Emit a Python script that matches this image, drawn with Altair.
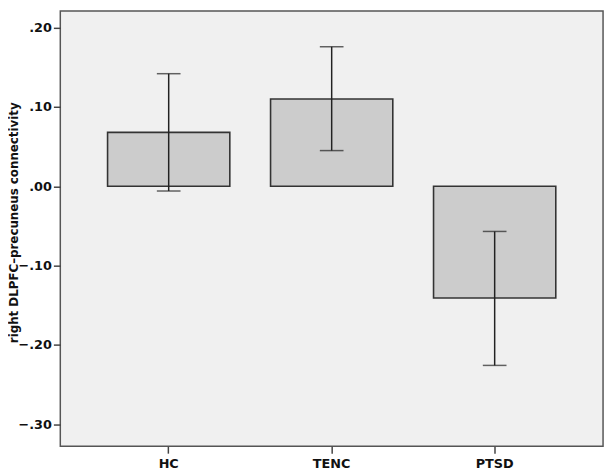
import altair as alt
import pandas as pd

groups = ["HC", "TENC", "PTSD"]
means = [0.068, 0.110, -0.141]
lower = [-0.006, 0.045, -0.226]
upper = [0.142, 0.176, -0.057]

df = pd.DataFrame({"group": groups, "mean": means, "lo": lower, "hi": upper})

FONT = "DejaVu Sans"
x_enc = alt.X(
    "group:N",
    sort=groups,
    scale=alt.Scale(paddingInner=0.25, paddingOuter=0.29),
    axis=alt.Axis(
        title=None, labelAngle=0, labelFont=FONT, labelFontSize=13,
        labelFontWeight="bold", labelColor="#111", tickColor="#444",
        tickSize=7, tickWidth=1.5, labelPadding=5, domain=False,
    ),
)
y_scale = alt.Scale(domain=[-0.328, 0.221], nice=False, zero=False)
y_axis = alt.Axis(
    title="right DLPFC–precuneus connectivity",
    values=[-0.3, -0.2, -0.1, 0.0, 0.1, 0.2],
    format=".2f",
    labelExpr="replace(format(datum.value, '.2f'), '0.', '.')",
    labelFont=FONT, labelFontSize=13, labelFontWeight="bold", labelColor="#111",
    titleFont=FONT, titleFontSize=12, titleFontWeight="bold", titleColor="#111",
    tickColor="#444", tickSize=7, tickWidth=1.5, labelPadding=2,
    grid=False, domain=False, titleX=-40, titleY=214,
)

bars = alt.Chart(df).mark_bar(
    fill="#cccccc", stroke="#333333", strokeWidth=1.6
).encode(
    x=x_enc,
    y=alt.Y("mean:Q", scale=y_scale, axis=y_axis),
    y2=alt.datum(0),
)

rules = alt.Chart(df).mark_rule(color="#222222", strokeWidth=1.5).encode(
    x=alt.X("group:N", sort=groups),
    y=alt.Y("lo:Q", scale=y_scale),
    y2="hi:Q",
)

caps_lo = alt.Chart(df).mark_tick(
    color="#222222", size=24, thickness=1.5, orient="horizontal"
).encode(x=alt.X("group:N", sort=groups), y=alt.Y("lo:Q", scale=y_scale))

caps_hi = alt.Chart(df).mark_tick(
    color="#222222", size=24, thickness=1.5, orient="horizontal"
).encode(x=alt.X("group:N", sort=groups), y=alt.Y("hi:Q", scale=y_scale))

chart = alt.layer(bars, rules, caps_lo, caps_hi).properties(
    width=550, height=441,
    autosize=alt.AutoSizeParams(type="none"),
    padding={"left": 53, "top": 0, "right": 4, "bottom": 25},
    background="white",
).configure_view(
    fill="#f0f0f0", stroke="#555555", strokeWidth=1.5
)

chart.save("out.html", embed_options={"renderer": "svg", "actions": False})
